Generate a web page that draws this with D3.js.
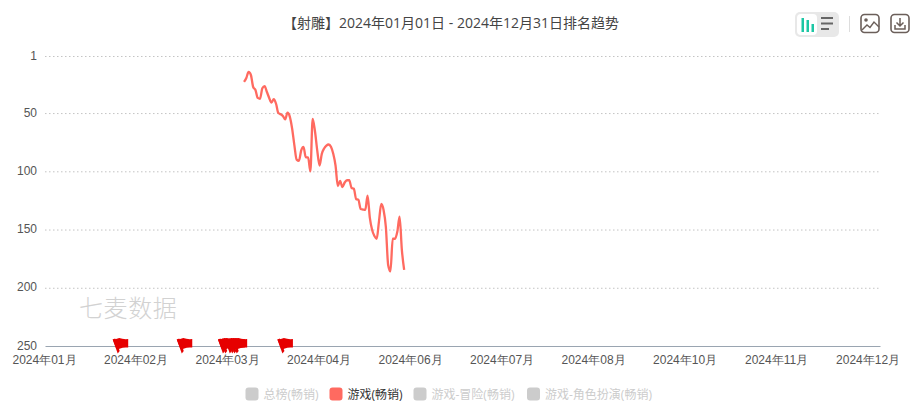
<!DOCTYPE html>
<html><head><meta charset="utf-8">
<script src="https://cdn.jsdelivr.net/npm/d3@7"></script>
<style>html,body{margin:0;padding:0;background:#fff;overflow:hidden}svg{display:block;font-family:"Open Sans","Noto Sans CJK SC",sans-serif}</style>
</head><body><svg id="c" width="924" height="416"></svg>
<script>
const titleText = "【射雕】2024年01月01日 - 2024年12月31日排名趋势";
const startDate = "2024-03-28";
const ranks = [23.3,19.9,14.7,17.3,27.6,30.2,37,37.7,28.7,26.8,31.9,37,41,38,42,50,51,52.5,55.5,49.7,53,63,77.5,90,91,82,79,88,88,100,55,65.4,82,95,85,80.4,78,77,79,85,95,112.6,108.3,113.5,109.6,107.7,107.7,114.3,115,123.8,124.6,132.4,132.8,133.2,121,140,150.4,155.5,157.9,142.7,128,133.2,147.8,180.4,185.9,157.9,157.9,151.9,139,167.6,184.7];
const yTicks = [1,50,100,150,200,250];
const xTicks = ["2024-01-01","2024-02-10","2024-03-21","2024-04-30","2024-06-09","2024-07-19","2024-08-28","2024-10-07","2024-11-16","2024-12-26"];
const flagDates = ["2024-02-02","2024-03-01","2024-03-19","2024-03-20","2024-03-22","2024-03-23","2024-03-24","2024-03-25","2024-04-14"];
const legendNames = ["总榜(畅销)","游戏(畅销)","游戏-冒险(畅销)","游戏-角色扮演(畅销)"];
const legendOn = [false,true,false,false];

const svg = d3.select("#c");
const parse = d3.utcParse("%Y-%m-%d");
const x = d3.scaleUtc().domain([parse("2024-01-01"),parse("2024-12-31")]).range([45,880]);
const y = d3.scaleLinear().domain([1,250]).range([56,346]);
const lineColor = "#ff6a60";

svg.append("text").attr("x",451).attr("y",28).attr("text-anchor","middle").attr("font-size",14).attr("fill","#444").text(titleText);

svg.append("text").attr("x",79).attr("y",317).attr("font-size",24).attr("letter-spacing",0.6).attr("font-weight",300).attr("fill","#d2d2d2").text("七麦数据");

const ya = svg.append("g").attr("transform","translate(45,0)").call(d3.axisLeft(y).tickValues(yTicks).tickSize(0).tickPadding(8).tickFormat(d3.format("d")));
ya.select(".domain").remove();
ya.selectAll("text").attr("font-size",12).attr("font-family","inherit").attr("fill","#555").attr("dy","0.25em");
ya.selectAll("line").filter(d=>d!==250).attr("x2",835).attr("stroke","#c4c4c4").attr("stroke-dasharray","1.5,2.5");
ya.selectAll("line").filter(d=>d===250).remove();

const xa = svg.append("g").attr("transform","translate(0,346)").call(d3.axisBottom(x).tickValues(xTicks.map(parse)).tickSize(0).tickPadding(9).tickFormat(d3.utcFormat("%Y年%m月")));
xa.select(".domain").attr("stroke","#9aa5b1");
xa.selectAll("text").attr("font-size",12).attr("font-family","inherit").attr("fill","#555").attr("dx",-1);

const t0 = parse(startDate);
const pts = ranks.map((r,i)=>({d:d3.utcDay.offset(t0,i),r}));
svg.append("path").datum(pts).attr("fill","none").attr("stroke",lineColor).attr("stroke-width",2.3).attr("stroke-linejoin","round")
  .attr("d",d3.line().x(d=>x(d.d)).y(d=>y(d.r)).curve(d3.curveMonotoneX));

const fg = svg.append("g").attr("fill","#e60000");
flagDates.forEach(s=>{
  const g = fg.append("g").attr("transform",`translate(${x(parse(s))-1},${y(250)})`);
  g.append("path").attr("d","M0.5,7.5 L-4.5,-6.5 L-2,-7.5 L2.5,5 Z");
  g.append("path").attr("d","M-4.5,-6.5 Q-1,-7 2,-8 Q6,-6.5 11,-7 L11,1.5 Q6,1 3,2.5 Q0,3.5 -1,2.5 Z");
});

const lg = svg.append("g");
const legendX = [245.5,329.5,413.5,527];
legendNames.forEach((n,i)=>{
  lg.append("rect").attr("x",legendX[i]).attr("y",387.5).attr("width",13).attr("height",13).attr("rx",3).attr("fill",legendOn[i]?lineColor:"#ccc");
  lg.append("text").attr("x",legendX[i]+18).attr("y",398.5).attr("font-size",12).attr("fill",legendOn[i]?"#333":"#ccc").text(n);
});

const tb = svg.append("g");
tb.append("rect").attr("x",795).attr("y",12).attr("width",44).attr("height",25).attr("rx",5).attr("fill","#e8e8e8");
tb.append("rect").attr("x",797).attr("y",14).attr("width",20).attr("height",21).attr("rx",4).attr("fill","#fff");
[[802,18,14],[807,20,12],[812,24,8]].forEach(b=>tb.append("rect").attr("x",b[0]-0.5).attr("y",b[1]).attr("width",2.5).attr("height",b[2]).attr("fill","#1cc7a5"));
[[821,17,12],[821,22.5,12],[821,28,8]].forEach(b=>tb.append("rect").attr("x",b[0]).attr("y",b[1]).attr("width",b[2]).attr("height",2).attr("fill","#666"));
tb.append("line").attr("x1",849.5).attr("x2",849.5).attr("y1",16).attr("y2",32).attr("stroke","#ddd");
const ic = "#6b5f5a";
tb.append("rect").attr("x",861).attr("y",14.5).attr("width",18).attr("height",18).attr("rx",3.5).attr("fill","none").attr("stroke",ic).attr("stroke-width",1.6);
tb.append("circle").attr("cx",866).attr("cy",20).attr("r",1.8).attr("fill",ic);
tb.append("path").attr("d","M862,30 L867,25 L870,27.5 L874,22 L879,27").attr("fill","none").attr("stroke",ic).attr("stroke-width",1.4);
tb.append("rect").attr("x",891).attr("y",14.5).attr("width",18).attr("height",18).attr("rx",3.5).attr("fill","none").attr("stroke",ic).attr("stroke-width",1.6);
tb.append("path").attr("d","M900,18 V25 M896.5,22.5 L900,26 L903.5,22.5 M895,25 V29 H905 V25").attr("fill","none").attr("stroke",ic).attr("stroke-width",1.5);
</script></body></html>
